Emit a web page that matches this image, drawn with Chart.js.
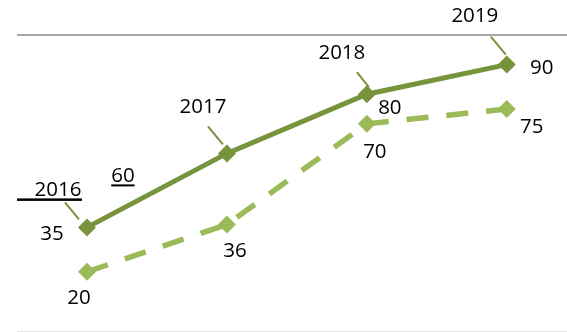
<!DOCTYPE html>
<html>
<head>
<meta charset="utf-8">
<script src="https://cdn.jsdelivr.net/npm/chart.js@4.4.1/dist/chart.umd.min.js"></script>
<style>
html,body{margin:0;padding:0;background:#fff;}
#wrap{width:567px;height:332px;position:relative;}
</style>
</head>
<body>
<div id="wrap"><canvas id="c" width="567" height="332"></canvas></div>
<script>
const categories = ['2016', '2017', '2018', '2019'];
const seriesA = [35, 60, 80, 90];
const seriesB = [20, 36, 70, 75];
const yTicks = [0, 100];

const darkGreen = '#77933C';
const lightGreen = '#9BBB59';
const FONT = '20.5px "Open Sans", Lato, sans-serif';

// label offsets (pixels) relative to each point
const offA = [[-35, 7], [-104, 23], [23, 14], [35, 4]];
const offB = [[-8, 26], [8, 27], [8, 28], [25, 18]];
const offYear = [[-29, -37], [-24, -46], [-25, -41], [-32, -48]];
const leaderFrom = [[-22, -25], [-19, -27], [-10, -22], [-16, -28]];
const leaderTo = [[-8, -8], [-4, -9], [2, -7], [-1, -10]];

const labelsPlugin = {
  id: 'labels',
  afterDatasetsDraw(chart) {
    const ctx = chart.ctx;
    const xs = chart.scales.x, ys = chart.scales.y;
    ctx.save();
    ctx.font = FONT;
    ctx.fillStyle = '#000';
    ctx.textAlign = 'center';
    ctx.textBaseline = 'middle';
    categories.forEach((cat, i) => {
      const px = xs.getPixelForValue(i);
      const pa = ys.getPixelForValue(seriesA[i]);
      const pb = ys.getPixelForValue(seriesB[i]);
      // leader line
      ctx.strokeStyle = darkGreen;
      ctx.lineWidth = 2;
      ctx.beginPath();
      ctx.moveTo(px + leaderFrom[i][0], pa + leaderFrom[i][1]);
      ctx.lineTo(px + leaderTo[i][0], pa + leaderTo[i][1]);
      ctx.stroke();
      // year label
      const yx = px + offYear[i][0], yy = pa + offYear[i][1];
      ctx.fillText(cat, yx, yy);
      // value labels
      const ax = px + offA[i][0], ay = pa + offA[i][1];
      ctx.fillText(String(seriesA[i]), ax, ay);
      const bx = px + offB[i][0], by = pb + offB[i][1];
      ctx.fillText(String(seriesB[i]), bx, by);
      if (i === 0) {
        ctx.fillRect(chart.chartArea.left, yy + 8, (yx + 24) - chart.chartArea.left, 2.5);
      }
      if (i === 1) {
        const w = ctx.measureText(String(seriesA[i])).width;
        ctx.fillRect(ax - w / 2, ay + 8, w, 2);
      }
    });
    ctx.restore();
  }
};

new Chart(document.getElementById('c'), {
  type: 'line',
  data: {
    datasets: [
      {
        label: 'A',
        data: seriesA.map((v, i) => ({x: i, y: v})),
        borderColor: darkGreen,
        backgroundColor: darkGreen,
        borderWidth: 5,
        pointStyle: 'rectRot',
        pointRadius: 9,
        pointBorderWidth: 0,
        tension: 0
      },
      {
        label: 'B',
        data: seriesB.map((v, i) => ({x: i, y: v})),
        borderColor: lightGreen,
        backgroundColor: lightGreen,
        borderWidth: 5.5,
        borderDash: [22, 18],
        pointStyle: 'rectRot',
        pointRadius: 9,
        pointBorderWidth: 0,
        tension: 0
      }
    ]
  },
  options: {
    responsive: false,
    animation: false,
    devicePixelRatio: 1,
    layout: {autoPadding: false, padding: {left: 17, top: 35, right: 0, bottom: 1}},
    plugins: {legend: {display: false}, tooltip: {enabled: false}},
    scales: {
      x: {
        type: 'linear',
        min: -0.5,
        max: 3.43,
        display: false
      },
      y: {
        min: 0,
        max: 100,
        afterBuildTicks(scale) { scale.ticks = yTicks.map(v => ({value: v})); },
        afterFit(scale) { scale.width = 0; },
        ticks: {display: false},
        border: {display: false},
        grid: {
          drawTicks: false,
          color: c => (c.tick && c.tick.value === 100) ? '#a6a6a6' : '#e3e3e3',
          lineWidth: c => (c.tick && c.tick.value === 100) ? 2 : 1
        }
      }
    }
  },
  plugins: [labelsPlugin]
});
</script>
</body>
</html>
